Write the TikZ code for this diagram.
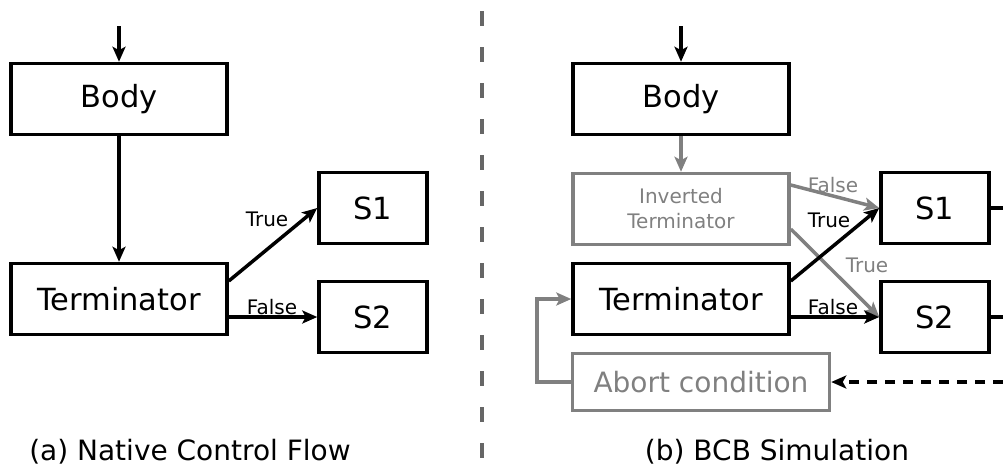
\documentclass[tikz,border=0pt]{standalone}
\usepackage{fontspec}
\setmainfont{DejaVu Sans}
\usetikzlibrary{arrows.meta,positioning,calc}
\definecolor{softgray}{HTML}{808080}
\definecolor{rulegray}{HTML}{666666}

\begin{document}
\begin{tikzpicture}[x=1pt, y=-1pt, >={Stealth[length=15pt,width=13pt,inset=3.5pt]},
  line width=3.5pt,
  box/.style={draw, inner sep=0pt, minimum width=216pt, minimum height=71pt, font=\fontsize{30.5}{36}\selectfont},
  smallbox/.style={box, minimum width=108pt, minimum height=71pt},
  ghost/.style={draw=softgray, text=softgray},
  lbl/.style={inner sep=0pt, font=\fontsize{20}{23}\selectfont},
  caption/.style={inner sep=0pt, font=\fontsize{28}{33}\selectfont}]
\useasboundingbox (0,0) rectangle (1003,467);

% native control flow
\node[box] (bodyA) at (119,99) {Body};
\node[box] (termA) at (119,299) {Terminator};
\node[smallbox] (s1A) at (373,208) {S1};
\node[smallbox] (s2A) at (373,317) {S2};
\coordinate (inA) at (119,26);
\draw[->] (inA) -- (bodyA);
\draw[->] (bodyA) -- (termA);
\draw[->] ([yshift=18pt]termA.east) -- (s1A.west);
\draw[->] (termA.east |- s2A.west) -- (s2A.west);
\node[lbl] (trueA) at (267,219) {True};
\node[lbl] (falseA) at (272,307) {False};
\node[caption] (capA) at (190,452) {(a) Native Control Flow};

% separator
\draw[rulegray, line width=4pt, dash pattern=on 15pt off 21pt] (482,11) -- (482,467);

% BCB simulation
\node[box] (bodyB) at (681,99) {Body};
\node[box, ghost, font=\fontsize{20}{25}\selectfont, align=center] (inv) at (681,209) {Inverted\\Terminator};
\node[box] (termB) at (681,299) {Terminator};
\node[smallbox] (s1B) at (935,208) {S1};
\node[smallbox] (s2B) at (935,317) {S2};
\node[box, ghost, font=\fontsize{28}{33}\selectfont, minimum width=257pt, minimum height=57pt] (abort) at (701,382) {Abort condition};
\coordinate (inB) at (681,26);
\coordinate (outS1) at (1003,208);
\coordinate (outS2) at (1003,317);
\coordinate (outAbort) at (1003,382);
\coordinate (loop) at (537,382);

\draw[->] (inB) -- (bodyB);
\draw[->, softgray] (bodyB) -- (inv);
\draw[->, softgray] ([yshift=24pt]inv.east) -- (s1B.west);
\draw[->, softgray] ([yshift=-20pt]inv.east) -- (s2B.west);
\draw[->] ([yshift=18pt]termB.east) -- (s1B.west);
\draw[->] (termB.east |- s2B.west) -- (s2B.west);
\draw (s1B.east) -- (outS1);
\draw (s2B.east) -- (outS2);
\draw[->, dash pattern=on 10pt off 8pt] (outAbort) -- (abort.east);
\draw[->, softgray] (abort.west) -- (loop) |- (termB.west);

\node[lbl, text=softgray] (falseI) at (833,185) {False};
\node[lbl] (trueB) at (829,220) {True};
\node[lbl, text=softgray] (trueI) at (867,265) {True};
\node[lbl] (falseB) at (833,307) {False};
\node[caption] (capB) at (777,452) {(b) BCB Simulation};
\end{tikzpicture}
\end{document}
